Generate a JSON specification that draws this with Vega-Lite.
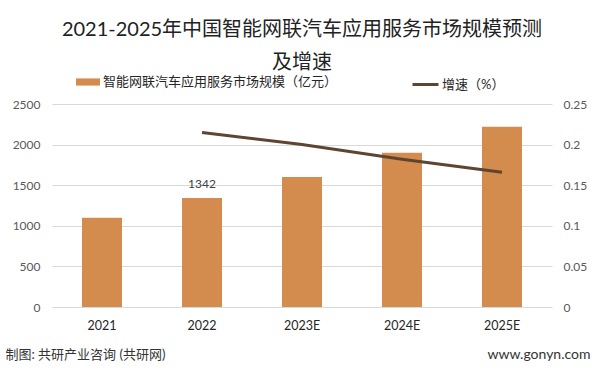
{
  "$schema": "https://vega.github.io/schema/vega-lite/v6.json",
  "width": 500,
  "height": 203,
  "autosize": {"type": "none"},
  "padding": {"left": 52, "top": 104, "right": 45, "bottom": 68},
  "background": "white",
  "title": {
    "text": ["2021-2025年中国智能网联汽车应用服务市场规模预测", "及增速"],
    "anchor": "middle",
    "frame": "group",
    "fontSize": 20,
    "font": "Lato, Noto Sans CJK SC",
    "fontWeight": "normal",
    "color": "#222222",
    "lineHeight": 33,
    "offset": -3
  },
  "config": {
    "font": "Lato, Noto Sans CJK SC",
    "view": {"stroke": null},
    "legend": {"padding": 0}
  },
  "data": {
    "values": [
      {"year": "2021", "value": 1100, "growth": null, "label": null},
      {"year": "2022", "value": 1342, "growth": 0.215, "label": "1342"},
      {"year": "2023E", "value": 1600, "growth": 0.2, "label": null},
      {"year": "2024E", "value": 1900, "growth": 0.182, "label": null},
      {"year": "2025E", "value": 2220, "growth": 0.166, "label": null}
    ]
  },
  "encoding": {
    "x": {
      "field": "year",
      "type": "nominal",
      "sort": null,
      "scale": {"paddingInner": 0.6, "paddingOuter": 0.3},
      "axis": {
        "labelAngle": 0,
        "ticks": false,
        "domain": false,
        "labelPadding": 12,
        "labelFontSize": 12.5,
        "labelColor": "#262626",
        "title": "制图: 共研产业咨询 (共研网)",
        "titleX": -47,
        "titleY": 47,
        "titleAlign": "left",
        "titleAnchor": null,
        "titleBaseline": "middle",
        "titleFontSize": 13,
        "titleFontWeight": "normal",
        "titleColor": "#333333"
      }
    }
  },
  "layer": [
    {
      "encoding": {
        "y": {
          "field": "value",
          "type": "quantitative",
          "scale": {"domain": [0, 2500]},
          "axis": {
            "values": [0, 500, 1000, 1500, 2000, 2500],
            "format": "d",
            "ticks": false,
            "domain": false,
            "gridColor": "#D9D9D9",
            "labelPadding": 12,
            "labelFontSize": 12,
            "labelColor": "#595959",
            "title": null
          }
        }
      },
      "layer": [
        {
          "mark": {"type": "bar", "color": "#D38B4E"},
          "encoding": {
            "fill": {
              "datum": "智能网联汽车应用服务市场规模（亿元）",
              "scale": {"range": ["#D38B4E"]},
              "legend": {
                "orient": "none",
                "legendX": 24,
                "legendY": -34,
                "direction": "horizontal",
                "title": null,
                "symbolType": "M-1,-0.3H1V0.3H-1Z",
                "symbolSize": 576,
                "symbolStrokeWidth": 0,
                "labelFontSize": 13,
                "labelLimit": 400,
                "labelColor": "#262626",
                "labelOffset": 3
              }
            }
          }
        },
        {
          "transform": [{"filter": "datum.label != null"}],
          "mark": {"type": "text", "dy": -14, "fontSize": 12, "color": "#404040"},
          "encoding": {
            "text": {"field": "label"}
          }
        }
      ]
    },
    {
      "transform": [{"filter": "datum.growth != null"}],
      "mark": {"type": "line", "strokeWidth": 3, "color": "#5E4531"},
      "encoding": {
        "y": {
          "field": "growth",
          "type": "quantitative",
          "scale": {"domain": [0, 0.25]},
          "axis": {
            "orient": "right",
            "values": [0, 0.05, 0.1, 0.15, 0.2, 0.25],
            "format": "~g",
            "grid": false,
            "ticks": false,
            "domain": false,
            "labelPadding": 11,
            "labelFontSize": 12,
            "labelColor": "#595959",
            "title": "www.gonyn.com",
            "titleAngle": 0,
            "titleX": 38,
            "titleY": 250,
            "titleAlign": "right",
            "titleBaseline": "middle",
            "titleFontSize": 14,
            "titleFontWeight": "normal",
            "titleColor": "#333333"
          }
        },
        "stroke": {
          "datum": "增速（%）",
          "scale": {"range": ["#5E4531"]},
          "legend": {
            "orient": "none",
            "legendX": 359,
            "legendY": -34,
            "direction": "horizontal",
            "title": null,
            "symbolType": "stroke",
            "symbolSize": 676,
            "symbolStrokeWidth": 3,
            "labelFontSize": 13,
            "labelColor": "#262626",
            "labelOffset": 2
          }
        }
      }
    }
  ],
  "resolve": {"scale": {"y": "independent"}}
}
